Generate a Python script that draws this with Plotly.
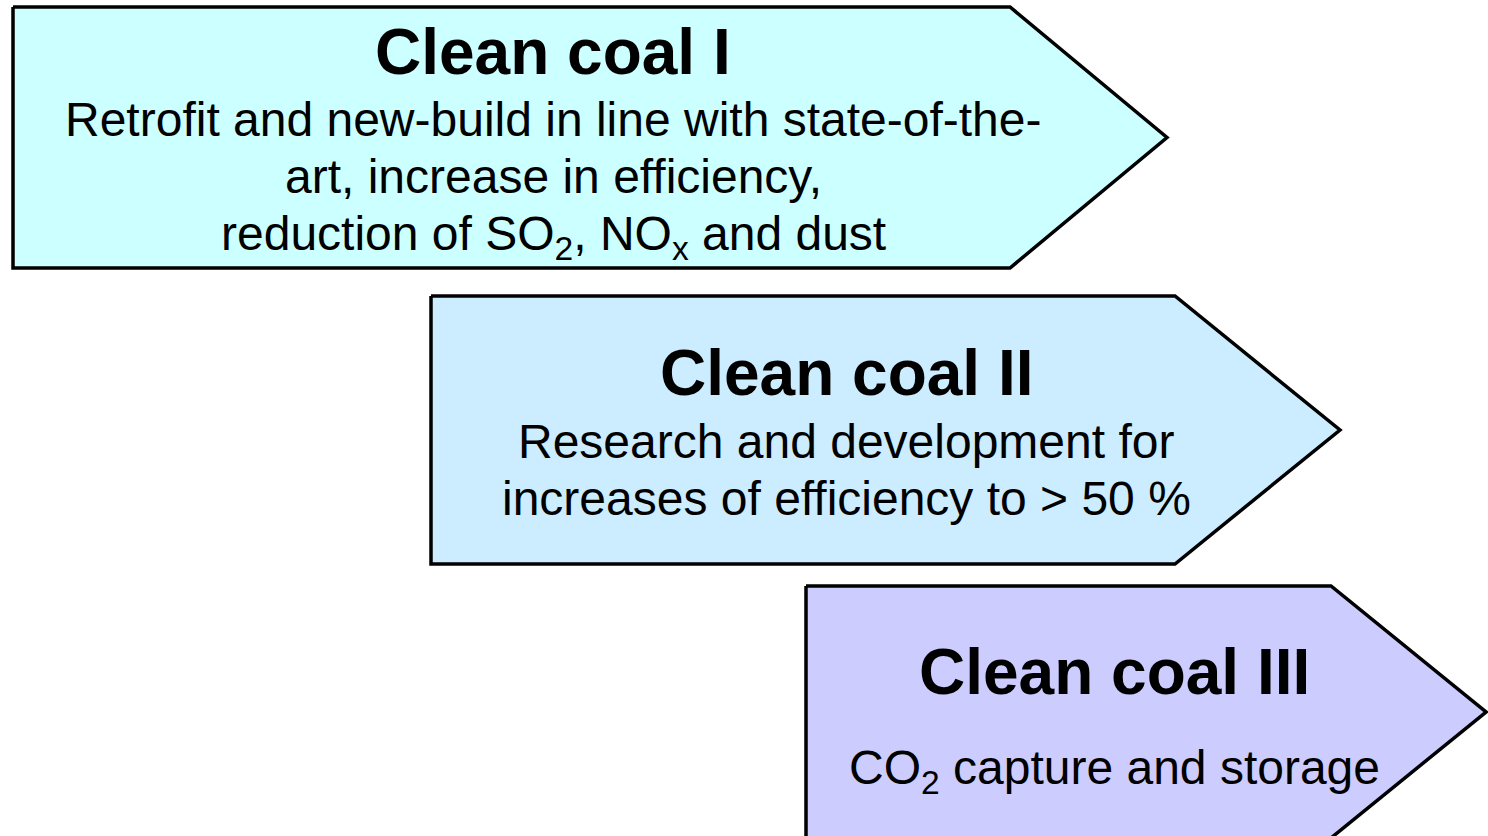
import plotly.graph_objects as go

# ---- content ----
stage_titles = ["Clean coal I", "Clean coal II", "Clean coal III"]
stage_lines = [
    ["Retrofit and new-build in line with state-of-the-",
     "art, increase in efficiency,",
     "reduction of SO<sub>2</sub>, NO<sub>x</sub> and dust"],
    ["Research and development for",
     "increases of efficiency to > 50 %"],
    ["CO<sub>2</sub> capture and storage"],
]

# ---- geometry (pixel space of the 1488x836 canvas) ----
arrow_left = [13, 431, 806]
arrow_shoulder = [1010, 1175, 1331]
arrow_tip = [1167, 1340, 1486]
arrow_top = [7, 296, 586]
arrow_bottom = [268, 564, 838]
text_center_x = [553, 846, 1114]
title_baseline = [75, 396, 695]
line_baselines = [[137, 194, 251], [459, 516], [785]]

# ---- styles ----
fill_colors = ["#CCFFFF", "#CCECFF", "#CCCCFF"]
FONT = "Arial, Liberation Sans, sans-serif"
TITLE_SIZE = 64
BODY_SIZE = 48
W, H = 1488, 836

fig = go.Figure()
for i in range(3):
    mid = (arrow_top[i] + arrow_bottom[i]) / 2
    xs = [arrow_left[i], arrow_shoulder[i], arrow_tip[i], arrow_shoulder[i], arrow_left[i], arrow_left[i]]
    ys = [arrow_top[i], arrow_top[i], mid, arrow_bottom[i], arrow_bottom[i], arrow_top[i]]
    fig.add_trace(go.Scatter(x=xs, y=ys, mode="lines", fill="toself",
                             fillcolor=fill_colors[i],
                             line=dict(color="black", width=3.5),
                             hoverinfo="skip", showlegend=False))

annotations = []
def add_text(txt, x, baseline, size, bold=False):
    top = baseline - 0.905 * size - 3
    annotations.append(dict(
        x=x, y=top, xref="x", yref="y", xanchor="center", yanchor="top",
        text=txt, showarrow=False,
        font=dict(family=FONT, size=size, color="black",
                  weight="bold" if bold else "normal"),
    ))

for i in range(3):
    add_text(stage_titles[i], text_center_x[i], title_baseline[i], TITLE_SIZE, bold=True)
    for line, bl in zip(stage_lines[i], line_baselines[i]):
        add_text(line, text_center_x[i], bl, BODY_SIZE)

fig.update_layout(
    width=W, height=H, margin=dict(l=0, r=0, t=0, b=0),
    paper_bgcolor="white", plot_bgcolor="white",
    xaxis=dict(range=[0, W], visible=False, fixedrange=True),
    yaxis=dict(range=[H, 0], visible=False, fixedrange=True),
    annotations=annotations, showlegend=False,
)

fig.write_html("out.html", config={"displayModeBar": False},
               post_script="document.body.style.margin='0';document.body.style.overflow='hidden';")
